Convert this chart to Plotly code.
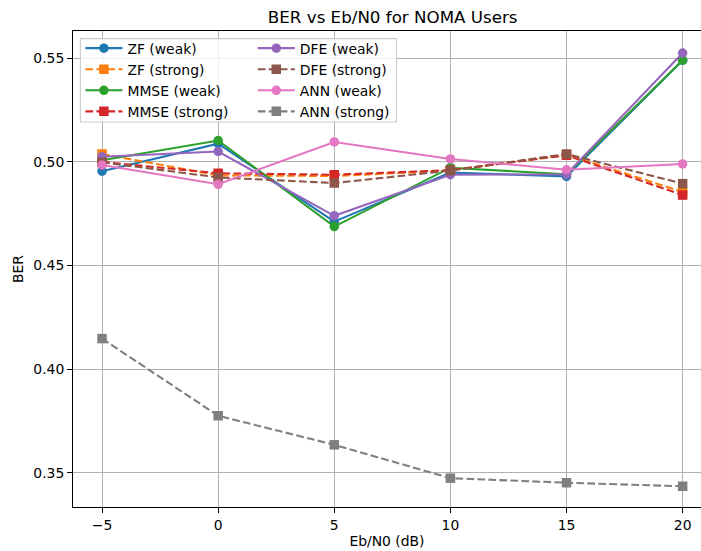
import plotly.graph_objects as go

# ---------------- data ----------------
ebn0 = [-5, 0, 5, 10, 15, 20]
zf_weak = [0.4955, 0.5088, 0.4712, 0.4948, 0.4930, 0.5490]
zf_strong = [0.5038, 0.4935, 0.4932, 0.4958, 0.5035, 0.4855]
mmse_weak = [0.5008, 0.5103, 0.4688, 0.4972, 0.4940, 0.5490]
mmse_strong = [0.5000, 0.4945, 0.4938, 0.4960, 0.5032, 0.4840]
dfe_weak = [0.5025, 0.5050, 0.4740, 0.4938, 0.4940, 0.5525]
dfe_strong = [0.4998, 0.4925, 0.4898, 0.4958, 0.5038, 0.4895]
ann_weak = [0.4985, 0.4892, 0.5096, 0.5014, 0.4962, 0.4990]
ann_strong = [0.4148, 0.3776, 0.3636, 0.3475, 0.3453, 0.3436]

x_tick_vals = [-5, 0, 5, 10, 15, 20]
x_tick_text = ["\u22125", "0", "5", "10", "15", "20"]
y_tick_vals = [0.35, 0.40, 0.45, 0.50, 0.55]
y_tick_text = ["0.35", "0.40", "0.45", "0.50", "0.55"]

# ---------------- layout geometry (px) ----------------
W, H = 701, 551
L, R, T, B = 73.3, 0, 30.7, 44.3
PW = W - L - R
PH = H - T - B

def px_x(p):
    return (p - L) / PW

def px_y(p):
    return (H - B - p) / PH

FONT = "DejaVu Sans"
LW = 2.08
DASH = "7.7px,3.3px"
MS = 9.5

series = [
    ("ZF (weak)", zf_weak, "#1f77b4", "solid", "circle", "legend"),
    ("ZF (strong)", zf_strong, "#ff7f0e", DASH, "square", "legend"),
    ("MMSE (weak)", mmse_weak, "#2ca02c", "solid", "circle", "legend"),
    ("MMSE (strong)", mmse_strong, "#d62728", DASH, "square", "legend"),
    ("DFE (weak)", dfe_weak, "#9467bd", "solid", "circle", "legend2"),
    ("DFE (strong)", dfe_strong, "#8c564b", DASH, "square", "legend2"),
    ("ANN (weak)", ann_weak, "#e377c2", "solid", "circle", "legend2"),
    ("ANN (strong)", ann_strong, "#7f7f7f", DASH, "square", "legend2"),
]

fig = go.Figure()
for name, vals, color, dash, sym, leg in series:
    fig.add_trace(go.Scatter(
        x=ebn0, y=vals, name=name, mode="lines+markers",
        line=dict(color=color, width=LW, dash=dash),
        marker=dict(color=color, size=MS, symbol=sym, line=dict(width=0)),
        legend=leg,
    ))

axis_common = dict(
    showgrid=True, gridcolor="#b0b0b0", gridwidth=1.1,
    showline=True, linecolor="black", linewidth=1.1,
    ticks="outside", ticklen=4.9, tickwidth=1.1, tickcolor="black",
    tickfont=dict(family=FONT, size=13.9, color="black"),
    zeroline=False,
)

LEG_TOP = 38.3 - 6

fig.update_layout(
    width=W, height=H,
    margin=dict(l=L, r=R, t=T, b=B, pad=0),
    paper_bgcolor="white", plot_bgcolor="white",
    font=dict(family=FONT, color="black"),
    title=dict(text="BER vs Eb/N0 for NOMA Users", x=392.7 / W, xref="container",
               xanchor="center", y=1 - 17 / H, yref="container", yanchor="middle",
               font=dict(family=FONT, size=16.7, color="black")),
    xaxis=dict(range=[-6.25, 20.79], tickvals=x_tick_vals, ticktext=x_tick_text,
               mirror=True,
               title=dict(text="Eb/N0 (dB)", font=dict(family=FONT, size=13.9), standoff=4),
               **axis_common),
    yaxis=dict(range=[0.3336, 0.5631], tickvals=y_tick_vals, ticktext=y_tick_text,
               mirror=False,
               title=dict(text="BER", font=dict(family=FONT, size=13.9), standoff=6),
               **axis_common),
    legend=dict(x=px_x(80.7), y=px_y(LEG_TOP), xanchor="left", yanchor="top",
                bgcolor="rgba(0,0,0,0)", borderwidth=0,
                font=dict(family=FONT, size=13.9, color="black"),
                tracegroupgap=0, itemwidth=37),
    legend2=dict(x=px_x(253), y=px_y(LEG_TOP), xanchor="left", yanchor="top",
                 bgcolor="rgba(0,0,0,0)", borderwidth=0,
                 font=dict(family=FONT, size=13.9, color="black"),
                 tracegroupgap=0, itemwidth=37),
    shapes=[dict(type="rect", xref="paper", yref="paper",
                 x0=px_x(80.7), x1=px_x(396.7), y0=px_y(121.7), y1=px_y(38.3),
                 fillcolor="rgba(255,255,255,0.8)", line=dict(color="#cccccc", width=1.1),
                 layer="above")],
)

fig.write_html("out.html")
